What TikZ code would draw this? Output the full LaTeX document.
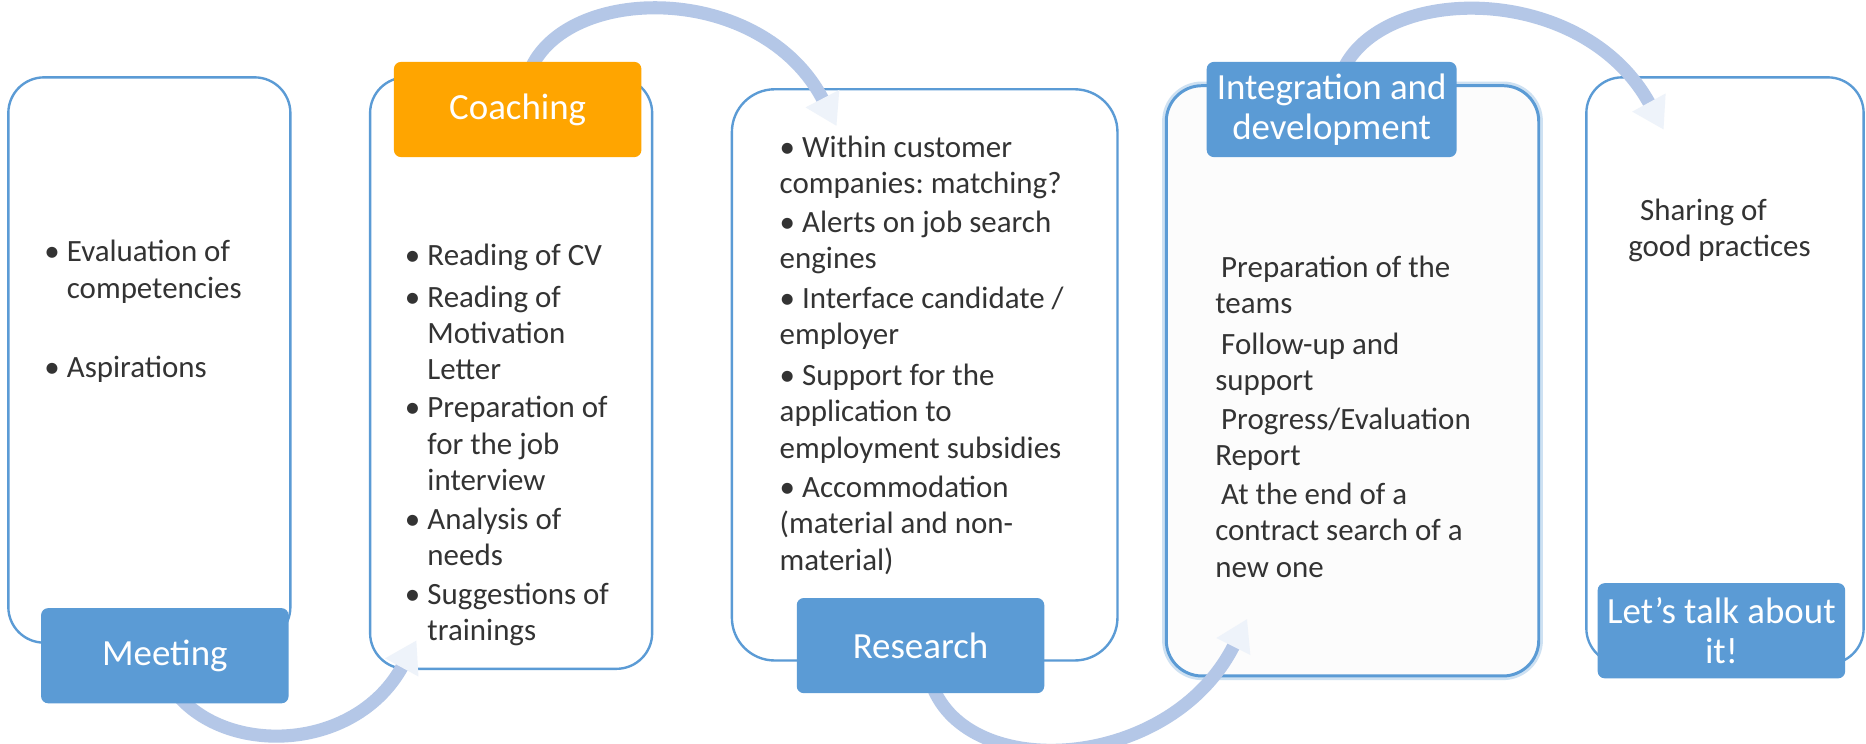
\documentclass[tikz,border=0pt]{standalone}
\usepackage{fontspec}
\setmainfont{Carlito}
\usetikzlibrary{arrows.meta}
\definecolor{bordc}{HTML}{5B9BD5}
\definecolor{labc}{HTML}{5B9BD5}
\definecolor{orangec}{HTML}{FFA500}
\definecolor{arrc}{HTML}{B4C7E7}
\definecolor{headc}{HTML}{EEF3FA}
\definecolor{txtc}{HTML}{333333}
\definecolor{greyfill}{HTML}{FCFCFC}
\frenchspacing
\begin{document}
\begin{tikzpicture}[x=1pt,y=-1pt,
 panel/.style={draw=bordc,line width=2pt,fill=white,rounded corners=30pt,inner sep=0pt},
 tag/.style={fill=labc,rounded corners=6pt,minimum width=208pt,minimum height=80pt,text=white,
   font=\fontsize{31}{34}\selectfont,align=center,inner sep=0pt},
 body/.style={anchor=base west,inner sep=0pt,text=txtc,font=\fontsize{26}{30.5}\selectfont},
 flow/.style={draw=arrc,line width=11pt,-{Triangle[width=30pt,length=26pt,color=headc]}}]
\useasboundingbox[fill=white] (0,0) rectangle (1568,625);

% panels
\node[panel,minimum width=237pt,minimum height=475pt] (p1) at (125.5,302.5) {};
\node[panel,minimum width=237pt,minimum height=497pt] (p2) at (429.5,313.5) {};
\node[panel,rounded corners=36pt,minimum width=324pt,minimum height=480pt] (p3) at (777,315) {};
\node[panel,fill=greyfill,line width=2.5pt,preaction={draw=bordc!30,line width=7pt},
      minimum width=313pt,minimum height=496pt] (p4) at (1136.5,320) {};
\node[panel,minimum width=233pt,minimum height=493pt] (p5) at (1449.5,311.5) {};

% connectors
\coordinate (a1s) at (150,585);  \coordinate (a1e) at (350,538);
\coordinate (a2s) at (445,60);   \coordinate (a2e) at (703,106);
\coordinate (a3s) at (785,580);  \coordinate (a3e) at (1048,520);
\coordinate (a4s) at (1128,60);  \coordinate (a4e) at (1398,109);
\draw[flow] (a1s) .. controls (195,636) and (300,630) .. (a1e);
\draw[flow] (a2s) .. controls (475,-14) and (640,-16) .. (a2e);
\draw[flow] (a3s) .. controls (820,658) and (985,646) .. (a3e);
\draw[flow] (a4s) .. controls (1160,-14) and (1330,-16) .. (a4e);

% labels
\node[tag] (meet) at (138.5,551) {Meeting};
\node[tag,fill=orangec] (coach) at (435,92) {Coaching};
\node[tag] (res) at (773.5,542.5) {Research};
\node[tag,minimum width=210pt] (integ) at (1119,92) {Integration and\\development};
\node[tag] (talk) at (1446.5,530) {Let’s talk about\\it!};

% box 1 text
\node[body] (t11) at (37,220) {\begin{tabular}[t]{@{}p{19pt}@{}l@{}}•&Evaluation of\\&competencies\end{tabular}};
\node[body] (t12) at (37,317) {\begin{tabular}[t]{@{}p{19pt}@{}l@{}}•&Aspirations\end{tabular}};

% box 2 text
\node[body] (t21) at (340,223) {\begin{tabular}[t]{@{}p{19pt}@{}l@{}}•&Reading of CV\end{tabular}};
\node[body] (t22) at (340,258) {\begin{tabular}[t]{@{}p{19pt}@{}l@{}}•&Reading of\\&Motivation\\&Letter\end{tabular}};
\node[body] (t23) at (340,351) {\begin{tabular}[t]{@{}p{19pt}@{}l@{}}•&Preparation of\\&for the job\\&interview\end{tabular}};
\node[body] (t24) at (340,445) {\begin{tabular}[t]{@{}p{19pt}@{}l@{}}•&Analysis of\\&needs\end{tabular}};
\node[body] (t25) at (340,508) {\begin{tabular}[t]{@{}p{19pt}@{}l@{}}•&Suggestions of\\&trainings\end{tabular}};

% box 3 text
\node[body] (t31) at (655,132) {\begin{tabular}[t]{@{}l@{}}• Within customer\\companies: matching?\end{tabular}};
\node[body] (t32) at (655,195) {\begin{tabular}[t]{@{}l@{}}• Alerts on job search\\engines\end{tabular}};
\node[body] (t33) at (655,259) {\begin{tabular}[t]{@{}l@{}}• Interface candidate /\\employer\end{tabular}};
\node[body] (t34) at (655,324) {\begin{tabular}[t]{@{}l@{}}• Support for the\\application to\\employment subsidies\end{tabular}};
\node[body] (t35) at (655,418) {\begin{tabular}[t]{@{}l@{}}• Accommodation\\(material and non-\\material)\end{tabular}};

% box 4 text
\node[body] (t41) at (1021,233) {\begin{tabular}[t]{@{}l@{}}\hspace{5pt}Preparation of the\\teams\end{tabular}};
\node[body] (t42) at (1021,298) {\begin{tabular}[t]{@{}l@{}}\hspace{5pt}Follow-up and\\support\end{tabular}};
\node[body] (t43) at (1021,361) {\begin{tabular}[t]{@{}l@{}}\hspace{5pt}Progress/Evaluation\\Report\end{tabular}};
\node[body] (t44) at (1021,424) {\begin{tabular}[t]{@{}l@{}}\hspace{5pt}At the end of a\\contract search of a\\new one\end{tabular}};

% box 5 text
\node[body] (t51) at (1368,185) {\begin{tabular}[t]{@{}l@{}}\hspace{10pt}Sharing of\\good practices\end{tabular}};
\end{tikzpicture}
\end{document}
